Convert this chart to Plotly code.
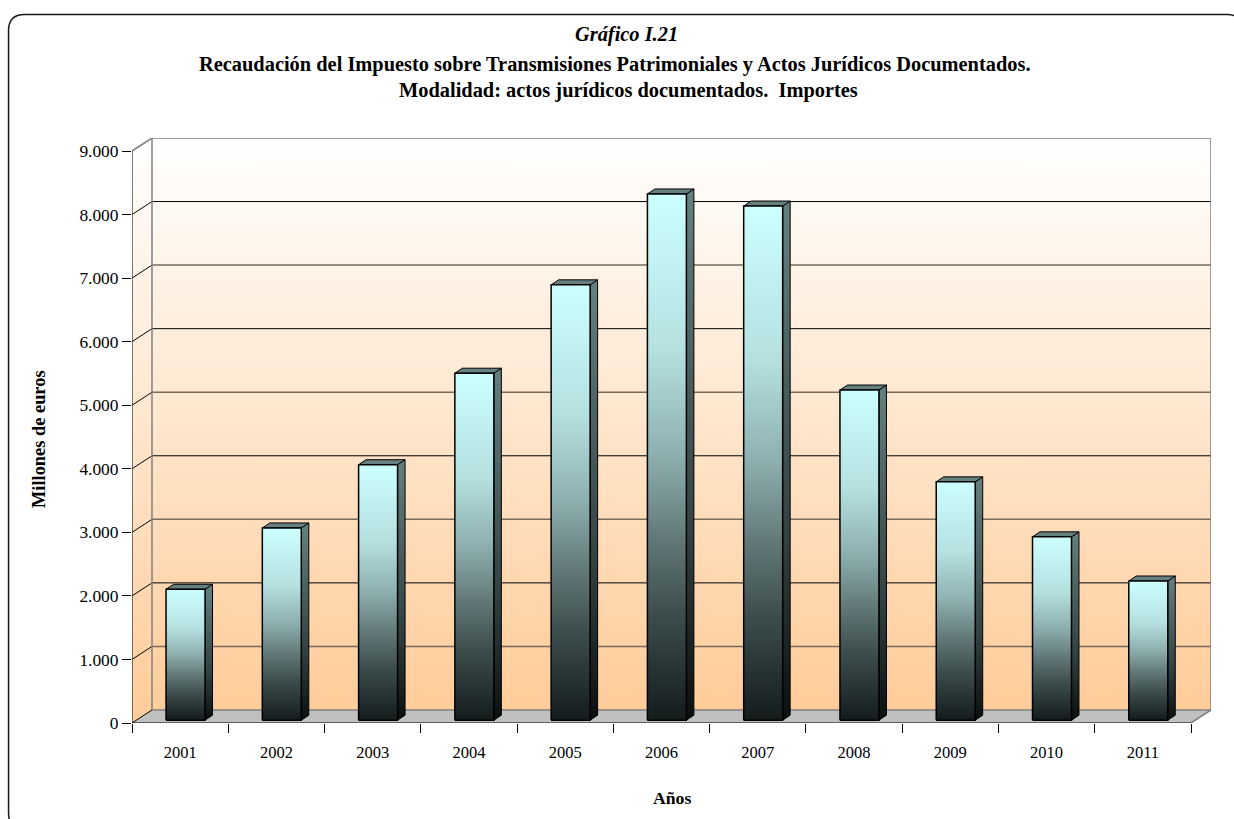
import plotly.graph_objects as go

YEARS = ["2001", "2002", "2003", "2004", "2005", "2006", "2007", "2008", "2009", "2010", "2011"]
VALUES = [2060, 3025, 4020, 5460, 6850, 8280, 8090, 5195, 3750, 2885, 2190]
Y_TICKS = [0, 1000, 2000, 3000, 4000, 5000, 6000, 7000, 8000, 9000]
Y_LABELS = ["0", "1.000", "2.000", "3.000", "4.000", "5.000", "6.000", "7.000", "8.000", "9.000"]
TITLE_LINES = [
    "Gráfico I.21",
    "Recaudación del Impuesto sobre Transmisiones Patrimoniales y Actos Jurídicos Documentados.",
    "Modalidad: actos jurídicos documentados.  Importes",
]
Y_TITLE = "Millones de euros"
X_TITLE = "Años"

FONT = "Liberation Serif"
W, H = 1234, 819
LEFT, RIGHT, TOP, BOTTOM = 131.5, 1211, 138, 723
CAT_PX = (1191.0 - 131.5) / len(YEARS)
VAL_PX = (723.0 - 151.0) / 9000
DX = 20 / CAT_PX      # wall depth in category units
DY = 13 / VAL_PX      # wall depth in value units
X0 = -0.5
X1 = X0 + len(YEARS)
BAR_W = 39 / CAT_PX
BAR_OX = 5.4 / CAT_PX
BAR_OY = 2.8 / VAL_PX
BAR_DX = 7.5 / CAT_PX
BAR_DY = 5 / VAL_PX

fig = go.Figure()


def poly(xs, ys, color=None, grad=None, line=None, lw=1):
    kw = {}
    if grad is not None:
        kw["fillgradient"] = dict(type="vertical", colorscale=grad)
    elif color is not None:
        kw["fillcolor"] = color
    fig.add_trace(go.Scatter(
        x=xs + xs[:1], y=ys + ys[:1], mode="lines", fill="toself",
        line=dict(color=line or "rgba(0,0,0,0)", width=lw),
        hoverinfo="skip", showlegend=False, cliponaxis=False, **kw))


def seg(xs, ys, color, lw=1):
    fig.add_trace(go.Scatter(x=xs, y=ys, mode="lines", line=dict(color=color, width=lw),
                             hoverinfo="skip", showlegend=False, cliponaxis=False))


WALL = [[0, "#FFCC99"], [1, "#FFFFFF"]]
# back and side wall, floor
poly([X0 + DX, X1 + DX, X1 + DX, X0 + DX], [DY, DY, 9000 + DY, 9000 + DY], grad=WALL)
poly([X0, X0 + DX, X0 + DX, X0], [0, DY, 9000 + DY, 9000], grad=WALL)
poly([X0, X0 + DX, X1 + DX, X1], [0, DY, DY, 0], color="#C0C0C0")
# grid lines: the reference renders every other line softer
for v in Y_TICKS[1:-1]:
    seg([X0, X0 + DX], [v, v + DY], "#000000")
    if v % 2000 == 0:
        seg([X0 + DX, X1 + DX], [v + DY, v + DY], "#000000")
    else:
        seg([X0 + DX, X1 + DX], [v + DY, v + DY], "#7A6A5C", 1.5)
# wall edges
seg([X0, X0 + DX, X1 + DX, X1 + DX, X1], [9000, 9000 + DY, 9000 + DY, DY, 0], "#808080", 1.5)
seg([X0 + DX, X0 + DX, X1 + DX], [9000 + DY, DY, DY], "#808080", 1.5)
seg([X0, X0 + DX], [0, DY], "#000000")

FRONT = [[0, "#141C1C"], [0.2, "#3C4C4C"], [0.35, "#647A7A"], [0.5, "#8DAEAE"], [0.7, "#B5E0E0"], [1, "#CCFFFF"]]
SIDE = [[0, "#0A0F0F"], [0.35, "#324040"], [1, "#668080"]]
for i, v in enumerate(VALUES):
    l = i + BAR_OX - BAR_W / 2
    r = i + BAR_OX + BAR_W / 2
    poly([r, r + BAR_DX, r + BAR_DX, r], [BAR_OY, BAR_OY + BAR_DY, BAR_OY + BAR_DY + v, BAR_OY + v],
         grad=SIDE, line="#000000")
    poly([l, r, r + BAR_DX, l + BAR_DX], [BAR_OY + v, BAR_OY + v, BAR_OY + v + BAR_DY, BAR_OY + v + BAR_DY],
         color="#668080", line="#000000")
    poly([l, r, r, l], [BAR_OY, BAR_OY, BAR_OY + v, BAR_OY + v], grad=FRONT, line="#000000", lw=1.5)

# front axes
seg([X0, X0], [0, 9000], "#000000")
seg([X0, X1], [0, 0], "#000000")


def px(x):
    return (x - LEFT) / (RIGHT - LEFT)


def py(y):
    return (BOTTOM - y) / (BOTTOM - TOP)


annots = []
for text, cx, y, size, fmt in [(TITLE_LINES[0], 626, 35, 20.4, "<b><i>{}</i></b>"),
                               (TITLE_LINES[1], 614.5, 64, 20.4, "<b>{}</b>"),
                               (TITLE_LINES[2], 628.5, 90, 20.4, "<b>{}</b>")]:
    annots.append(dict(text=fmt.format(text), x=px(cx), y=py(y), xref="paper", yref="paper", showarrow=False,
                       xanchor="center", yanchor="middle", font=dict(family=FONT, size=size, color="#000")))
annots.append(dict(text=f"<b>{Y_TITLE}</b>", x=px(38.5), y=py(439), xref="paper", yref="paper", showarrow=False,
                   textangle=-90, xanchor="center", yanchor="middle", font=dict(family=FONT, size=18.4, color="#000")))
annots.append(dict(text=f"<b>{X_TITLE}</b>", x=px(671.5), y=py(798), xref="paper", yref="paper", showarrow=False,
                   xanchor="center", yanchor="middle", font=dict(family=FONT, size=17.7, color="#000")))

# rounded page frame, running off the right and bottom edge
fl, ft, fr, fb, rad = 8, 14.5, 1243, 829, 16
frame = (f"M {px(fl)} {py(ft + rad)} Q {px(fl)} {py(ft)} {px(fl + rad)} {py(ft)} "
         f"L {px(fr - rad)} {py(ft)} Q {px(fr)} {py(ft)} {px(fr)} {py(ft + rad)} "
         f"L {px(fr)} {py(fb - rad)} Q {px(fr)} {py(fb)} {px(fr - rad)} {py(fb)} "
         f"L {px(fl + rad)} {py(fb)} Q {px(fl)} {py(fb)} {px(fl)} {py(fb - rad)} Z")

fig.update_layout(
    width=W, height=H, autosize=False,
    margin=dict(l=LEFT, r=W - RIGHT, t=TOP, b=H - BOTTOM, pad=0),
    paper_bgcolor="#FFFFFF", plot_bgcolor="rgba(0,0,0,0)",
    font=dict(family=FONT, size=16.5, color="#000000"),
    showlegend=False, hovermode=False,
    annotations=annots,
    shapes=[dict(type="path", path=frame, xref="paper", yref="paper",
                 line=dict(color="#1A1A1A", width=1.5), layer="below")],
    xaxis=dict(range=[X0, X1 + DX], tickmode="array", tickvals=list(range(len(YEARS))), ticktext=YEARS,
               ticks="outside", ticklen=14, tickcolor="rgba(0,0,0,0)", showgrid=False, zeroline=False, showline=False,
               tickfont=dict(size=16.5),
               minor=dict(ticks="outside", ticklen=9, tickwidth=1, tickcolor="#000000",
                          tickmode="array", tickvals=[X0 + k for k in range(len(YEARS) + 1)], showgrid=False)),
    yaxis=dict(range=[0, 9000 + DY], tickmode="array", tickvals=Y_TICKS, ticktext=Y_LABELS,
               ticks="outside", ticklen=9, tickwidth=1, tickcolor="#000000", tickfont=dict(size=17.4),
               showgrid=False, zeroline=False, showline=False),
)

fig.write_html("out.html", config={"displayModeBar": False},
               post_script="document.body.style.margin='0';document.body.style.overflow='hidden';")
